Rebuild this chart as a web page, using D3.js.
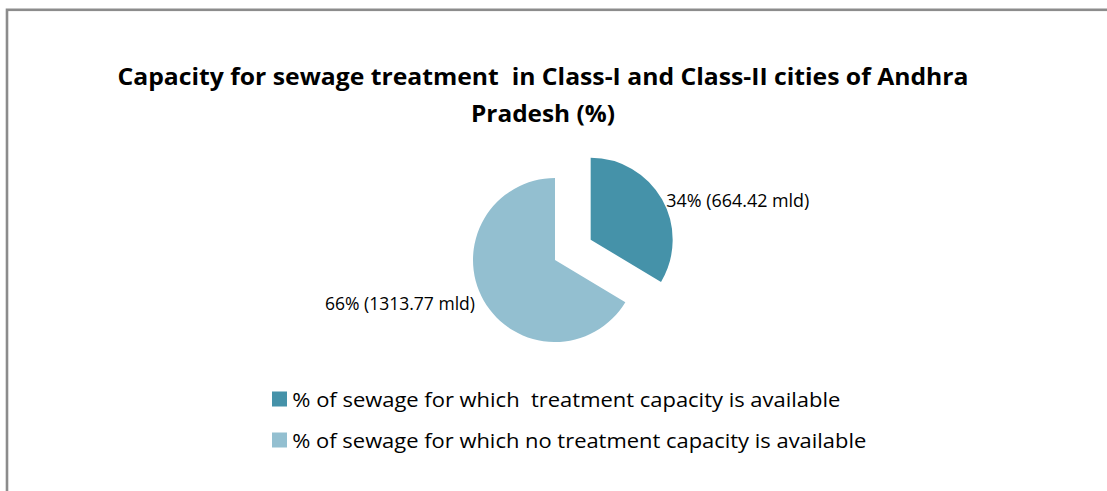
<!DOCTYPE html>
<html>
<head>
<meta charset="utf-8">
<script src="https://cdn.jsdelivr.net/npm/d3@7"></script>
<style>
  body { margin: 0; background: #fff; }
  text { font-family: "Open Sans", "DejaVu Sans", sans-serif; fill: #000; white-space: pre; }
</style>
</head>
<body>
<div id="chart"></div>
<script>
// chart data
const categories = [
  "% of sewage for which  treatment capacity is available",
  "% of sewage for which no treatment capacity is available"
];
const values = [664.42, 1313.77];   // mld
const colors = ["#4592a9", "#93bfd0"];
const titleLines = [
  "Capacity for sewage treatment  in Class-I and Class-II cities of Andhra",
  "Pradesh (%)"
];

var width = 1107, height = 491;

var svg = d3.select("#chart").append("svg")
    .attr("width", width)
    .attr("height", height);

// outer frame (runs off the right and bottom edges)
svg.append("rect")
    .attr("x", 7).attr("y", 9.8)
    .attr("width", 1200).attr("height", 600)
    .attr("fill", "none")
    .attr("stroke", "#8c8c8c")
    .attr("stroke-width", 2.6);

// title
var titleW = [851, 144];
svg.selectAll(".title")
    .data(titleLines)
    .enter().append("text")
    .attr("class", "title")
    .attr("x", 543)
    .attr("y", function(d, i) { return 85 + i * 37; })
    .attr("text-anchor", "middle")
    .attr("font-size", 22.5)
    .attr("font-weight", "bold")
    .attr("textLength", function(d, i) { return titleW[i]; })
    .attr("lengthAdjust", "spacingAndGlyphs")
    .text(function(d) { return d; });

// pie
var cx = 555, cy = 260, r = 82, explode = 41;
var total = d3.sum(values);

var pie = d3.pie().sort(null).value(function(d) { return d; });
var arcs = pie(values);
var arc = d3.arc().innerRadius(0).outerRadius(r);

function offset(d, dist) {
  var a = (d.startAngle + d.endAngle) / 2;
  return [Math.sin(a) * dist, -Math.cos(a) * dist];
}

var g = svg.append("g").attr("transform", "translate(" + cx + "," + cy + ")");

g.selectAll("path")
    .data(arcs)
    .enter().append("path")
    .attr("d", arc)
    .attr("fill", function(d, i) { return colors[i]; })
    .attr("transform", function(d, i) {
      var o = offset(d, i === 0 ? explode : 0);
      return "translate(" + o[0] + "," + o[1] + ")";
    });

// data labels
var labelW = [143, 150];
g.selectAll(".lbl")
    .data(arcs)
    .enter().append("text")
    .attr("class", "lbl")
    .attr("x", function(d, i) {
      var o = offset(d, i === 0 ? explode : 0), p = offset(d, i === 0 ? 87 : 92);
      return o[0] + p[0];
    })
    .attr("y", function(d, i) {
      var o = offset(d, i === 0 ? explode : 0), p = offset(d, i === 0 ? 87 : 92);
      return o[1] + p[1] + (i === 0 ? 10 : 5);
    })
    .attr("text-anchor", function(d) {
      return (d.startAngle + d.endAngle) / 2 < Math.PI ? "start" : "end";
    })
    .attr("font-size", 17.5)
    .attr("textLength", function(d, i) { return labelW[i]; })
    .attr("lengthAdjust", "spacingAndGlyphs")
    .text(function(d) {
      return Math.round(d.value / total * 100) + "% (" + d.value.toFixed(2) + " mld)";
    });

// legend
var legendW = [548, 574];
var legend = svg.selectAll(".legend")
    .data(categories)
    .enter().append("g")
    .attr("class", "legend")
    .attr("transform", function(d, i) { return "translate(272," + (406.5 + i * 41) + ")"; });

legend.append("rect")
    .attr("x", 0).attr("y", -15)
    .attr("width", 15).attr("height", 15)
    .attr("fill", function(d, i) { return colors[i]; });

legend.append("text")
    .attr("x", 20.3).attr("y", 0)
    .attr("font-size", 19.5)
    .attr("textLength", function(d, i) { return legendW[i]; })
    .attr("lengthAdjust", "spacingAndGlyphs")
    .text(function(d) { return d; });
</script>
</body>
</html>
